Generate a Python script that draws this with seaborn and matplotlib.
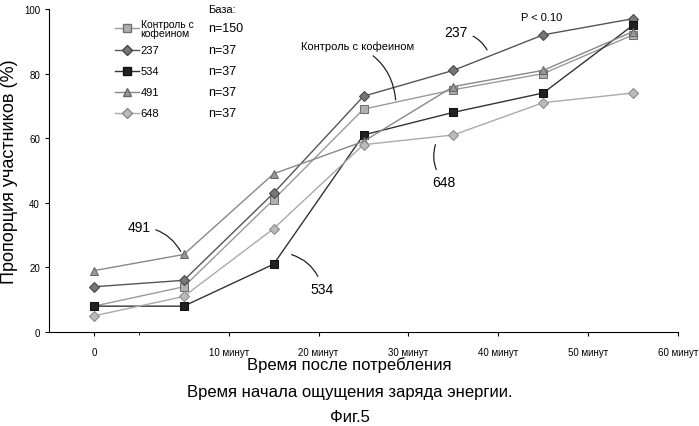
import matplotlib
matplotlib.use("Agg")
import matplotlib.pyplot as plt
import seaborn as sns
import pandas as pd

plt.rcParams["font.family"] = "Liberation Sans"

times = [-5, 5, 15, 25, 35, 45, 55]
control = [8, 14, 41, 69, 75, 80, 92]
s237 = [14, 16, 43, 73, 81, 92, 97]
s534 = [8, 8, 21, 61, 68, 74, 95]
s491 = [19, 24, 49, 59, 76, 81, 93]
s648 = [5, 11, 32, 58, 61, 71, 74]
series_names = ["Контроль с\nкофеином", "237", "534", "491", "648"]
bases = ["n=150", "n=37", "n=37", "n=37", "n=37"]
tick_pos = [-5, 10, 20, 30, 40, 50, 60]
tick_labels = ["0", "10 минут", "20 минут", "30 минут", "40 минут", "50 минут", "60 минут"]

styles = [
    dict(marker="s", color="#9a9a9a", mfc="#b0b0b0", mec="#707070", ms=6),
    dict(marker="D", color="#555555", mfc="#777777", mec="#444444", ms=5),
    dict(marker="s", color="#333333", mfc="#222222", mec="#111111", ms=6),
    dict(marker="^", color="#888888", mfc="#999999", mec="#666666", ms=6),
    dict(marker="D", color="#aaaaaa", mfc="#bbbbbb", mec="#888888", ms=5),
]
data = [control, s237, s534, s491, s648]

fig = plt.figure(figsize=(6.99, 4.27), dpi=100)
ax = fig.add_axes([49/699, 1-333/427, (678-49)/699, (333-10)/427])

for vals, st in zip(data, styles):
    df = pd.DataFrame({"t": times, "v": vals})
    sns.lineplot(data=df, x="t", y="v", ax=ax, color=st["color"], lw=1,
                 marker=st["marker"], markersize=st["ms"],
                 markerfacecolor=st["mfc"], markeredgecolor=st["mec"])

ax.set_xlim(-10, 60)
ax.set_ylim(0, 100)
ax.set_xticks(tick_pos)
ax.set_xticklabels(tick_labels, fontsize=7)
ax.set_xticks([0], minor=True)
ax.set_yticks([0, 20, 40, 60, 80, 100])
ax.set_yticklabels(["0", "20", "40", "60", "80", "100"], fontsize=7)
ax.tick_params(length=3)
ax.tick_params(axis="x", pad=8)
for s in ["top", "right"]:
    ax.spines[s].set_visible(False)
ax.set_xlabel("")
ax.set_ylabel("Пропорция участников (%)", fontsize=13)

# manual legend
ax.text(7.7, 100, "База:", fontsize=8, va="center")
rows = [94, 87.4, 80.9, 74.4, 67.8]
for name, base, y, st in zip(series_names, bases, rows, styles):
    ax.plot([-2.6, 0.0], [y, y], color=st["color"], lw=1)
    ax.plot([-1.3], [y], marker=st["marker"], ms=st["ms"], mfc=st["mfc"], mec=st["mec"], ls="none")
    ax.text(0.2, y, name, fontsize=8 if "\n" not in name else 7.5, va="center",
            linespacing=0.9)
    ax.text(7.7, y, base, fontsize=9, va="center")

arrow = dict(arrowstyle="-", color="#222222", lw=0.9, connectionstyle="arc3,rad=-0.3")
ax.annotate("491", xy=(4.8, 24.2), xytext=(0, 32.5), fontsize=10, ha="center", va="center",
            arrowprops=arrow)
ax.annotate("534", xy=(16.7, 24.2), xytext=(20.4, 13.4), fontsize=10, ha="center", va="center",
            arrowprops=dict(arrowstyle="-", color="#222222", lw=0.9, connectionstyle="arc3,rad=0.3"))
ax.annotate("648", xy=(33.1, 58.8), xytext=(34, 46.5), fontsize=10, ha="center", va="center",
            arrowprops=arrow)
ax.annotate("Контроль с кофеином", xy=(28.6, 71), xytext=(24.3, 88.5), fontsize=8, ha="center",
            va="center", arrowprops=arrow)
ax.annotate("237", xy=(38.9, 86.6), xytext=(35.3, 92.8), fontsize=10, ha="center", va="center",
            arrowprops=arrow)
ax.text(44.8, 97.4, "P < 0.10", fontsize=8, ha="center", va="center")

fig.text(0.5, 1-365/427, "Время после потребления", fontsize=12, ha="center", va="center")
fig.text(0.5, 1-393/427, "Время начала ощущения заряда энергии.", fontsize=12, ha="center", va="center")
fig.text(0.5, 1-418/427, "Фиг.5", fontsize=12, ha="center", va="center")

fig.savefig("out.png", dpi=100)
